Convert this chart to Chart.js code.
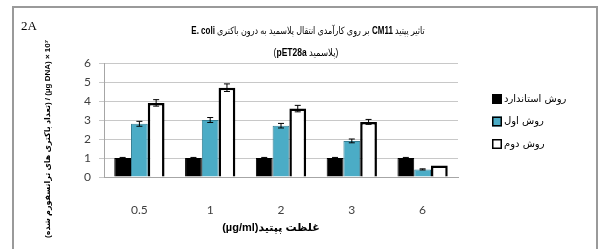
<!DOCTYPE html>
<html>
<head>
<meta charset="utf-8">
<script src="https://cdn.jsdelivr.net/npm/chart.js@4.4.0/dist/chart.umd.min.js"></script>
<style>
  html, body { margin: 0; padding: 0; background: #fff; }
</style>
</head>
<body>
<canvas id="myChart" width="600" height="249"></canvas>
<script>
const categories = ['0.5', '1', '2', '3', '6'];
const seriesNames = ['روش استاندارد', 'روش اول', 'روش دوم'];
const standardValues = [1, 1, 1, 1, 1];
const firstValues = [2.8, 3.0, 2.7, 1.9, 0.4];
const secondValues = [3.9, 4.7, 3.6, 2.9, 0.6];
const standardErrors = [0.03, 0.03, 0.03, 0.03, 0.03];
const firstErrors = [0.13, 0.13, 0.12, 0.1, 0.03];
const secondErrors = [0.17, 0.2, 0.17, 0.13, 0];
const yTicks = [0, 1, 2, 3, 4, 5, 6];

const latin = "'Lato', 'DejaVu Sans', sans-serif";
const persian = "'DejaVu Sans', sans-serif";

// title pieces, in reading order (right to left)
const titleLine1 = [['تاثیر پپتید ', false], ['CM11', true], [' بر روی کارآمدی انتقال پلاسمید به درون باکتری ', false], ['E. coli', true]];
const titleLine2 = [['(پلاسمید ', false], ['pET28a', true], [')', false]];
const xTitle = 'غلظت پپتید(µg/ml)';
const yTitle = '(تعداد باکتری های ترانسفورم شده) / (µg DNA) × 10⁷';

// draws a mixed bold/normal rtl line, squeezed a little horizontally
function drawRtlLine(ctx, parts, cx, y, size, squeeze) {
  const fontFor = b => (b ? 'bold ' : '') + size + "px 'Liberation Sans', " + persian;
  let total = 0;
  parts.forEach(p => { ctx.font = fontFor(p[1]); total += ctx.measureText(p[0]).width; });
  ctx.save();
  ctx.translate(cx, y);
  ctx.scale(squeeze, 1);
  let x = total / 2;
  ctx.direction = 'rtl';
  ctx.textAlign = 'right';
  parts.forEach(p => {
    ctx.font = fontFor(p[1]);
    ctx.fillText(p[0], x, 0);
    x -= ctx.measureText(p[0]).width;
  });
  ctx.restore();
}

const extrasPlugin = {
  id: 'extras',
  beforeDraw(chart) {
    const ctx = chart.ctx;
    ctx.save();
    ctx.fillStyle = '#fff';
    ctx.fillRect(0, 0, chart.width, chart.height);
    ctx.restore();
  },
  afterDatasetsDraw(chart) {
    const ctx = chart.ctx;
    const y = chart.scales.y;
    const errs = [standardErrors, firstErrors, secondErrors];
    ctx.save();
    ctx.strokeStyle = '#000';
    ctx.lineWidth = 1;
    chart.data.datasets.forEach((ds, i) => {
      chart.getDatasetMeta(i).data.forEach((bar, j) => {
        const e = errs[i][j];
        if (!e) return;
        const top = y.getPixelForValue(ds.data[j] + e);
        const bot = y.getPixelForValue(ds.data[j] - e);
        ctx.beginPath();
        ctx.moveTo(bar.x, top); ctx.lineTo(bar.x, bot);
        ctx.moveTo(bar.x - 3, top); ctx.lineTo(bar.x + 3, top);
        ctx.moveTo(bar.x - 3, bot); ctx.lineTo(bar.x + 3, bot);
        ctx.stroke();
      });
    });
    ctx.restore();
  },
  afterDraw(chart) {
    const ctx = chart.ctx;
    const a = chart.chartArea;
    ctx.save();
    // frame
    ctx.strokeStyle = '#9a9a9a';
    ctx.lineWidth = 2;
    ctx.strokeRect(13, 7, 584, 270);
    // panel label
    ctx.fillStyle = '#000';
    ctx.font = "13px 'Liberation Serif', serif";
    ctx.textBaseline = 'middle';
    ctx.textAlign = 'left';
    ctx.fillText('2A', 21, 27);
    // titles
    drawRtlLine(ctx, titleLine1, 308, 31, 10, 0.8);
    drawRtlLine(ctx, titleLine2, 306, 53, 10, 0.85);
    // x title
    ctx.direction = 'rtl';
    ctx.textAlign = 'center';
    ctx.font = "bold 11px 'Liberation Sans', " + persian;
    ctx.fillText(xTitle, (a.left + a.right) / 2 - 10, 228);
    // y title
    ctx.save();
    ctx.translate(48, 139);
    ctx.rotate(-Math.PI / 2);
    ctx.direction = 'ltr';
    ctx.font = "bold 8px 'Liberation Sans', " + persian;
    ctx.fillText(yTitle, 0, 0);
    ctx.restore();
    // legend
    ctx.direction = 'ltr';
    ctx.textAlign = 'left';
    ctx.font = "10px " + persian;
    chart.data.datasets.forEach((ds, i) => {
      const cy = a.top + 36 + i * 22.5;
      const bx = a.right + 34;
      ctx.fillStyle = ds.backgroundColor;
      ctx.fillRect(bx, cy - 5, 10, 10);
      ctx.strokeStyle = '#000';
      ctx.lineWidth = 1.5;
      ctx.strokeRect(bx + 0.75, cy - 4.25, 8.5, 8.5);
      ctx.fillStyle = '#000';
      ctx.fillText(ds.label, bx + 12, cy);
    });
    ctx.restore();
  }
};

new Chart(document.getElementById('myChart'), {
  type: 'bar',
  data: {
    labels: categories,
    datasets: [
      { label: seriesNames[0], data: standardValues, backgroundColor: '#000000', borderColor: '#000000', borderWidth: 1 },
      { label: seriesNames[1], data: firstValues, backgroundColor: '#4bacc6', borderColor: '#357f94', borderWidth: 1 },
      { label: seriesNames[2], data: secondValues, backgroundColor: '#ffffff', borderColor: '#000000', borderWidth: 2.5 }
    ]
  },
  options: {
    responsive: false,
    animation: false,
    devicePixelRatio: 1,
    layout: { padding: { left: 0, right: 142, top: 63, bottom: 0 } },
    datasets: { bar: { barPercentage: 1, categoryPercentage: 0.71 } },
    scales: {
      x: {
        grid: { display: false },
        border: { display: true, color: '#a6a6a6', width: 1 },
        ticks: { font: { family: latin, size: 12 }, color: '#404040', padding: 18 },
        afterFit(s) { s.height = 72; }
      },
      y: {
        min: 0,
        max: 6,
        afterBuildTicks(s) { s.ticks = yTicks.map(v => ({ value: v })); },
        grid: { color: '#c8c8c8', tickLength: 5 },
        border: { display: true, color: '#a6a6a6', width: 1 },
        ticks: { font: { family: latin, size: 12 }, color: '#404040', padding: 8 },
        afterFit(s) { s.width = 104; }
      }
    },
    plugins: {
      legend: { display: false },
      tooltip: { enabled: false }
    }
  },
  plugins: [extrasPlugin]
});
</script>
</body>
</html>
